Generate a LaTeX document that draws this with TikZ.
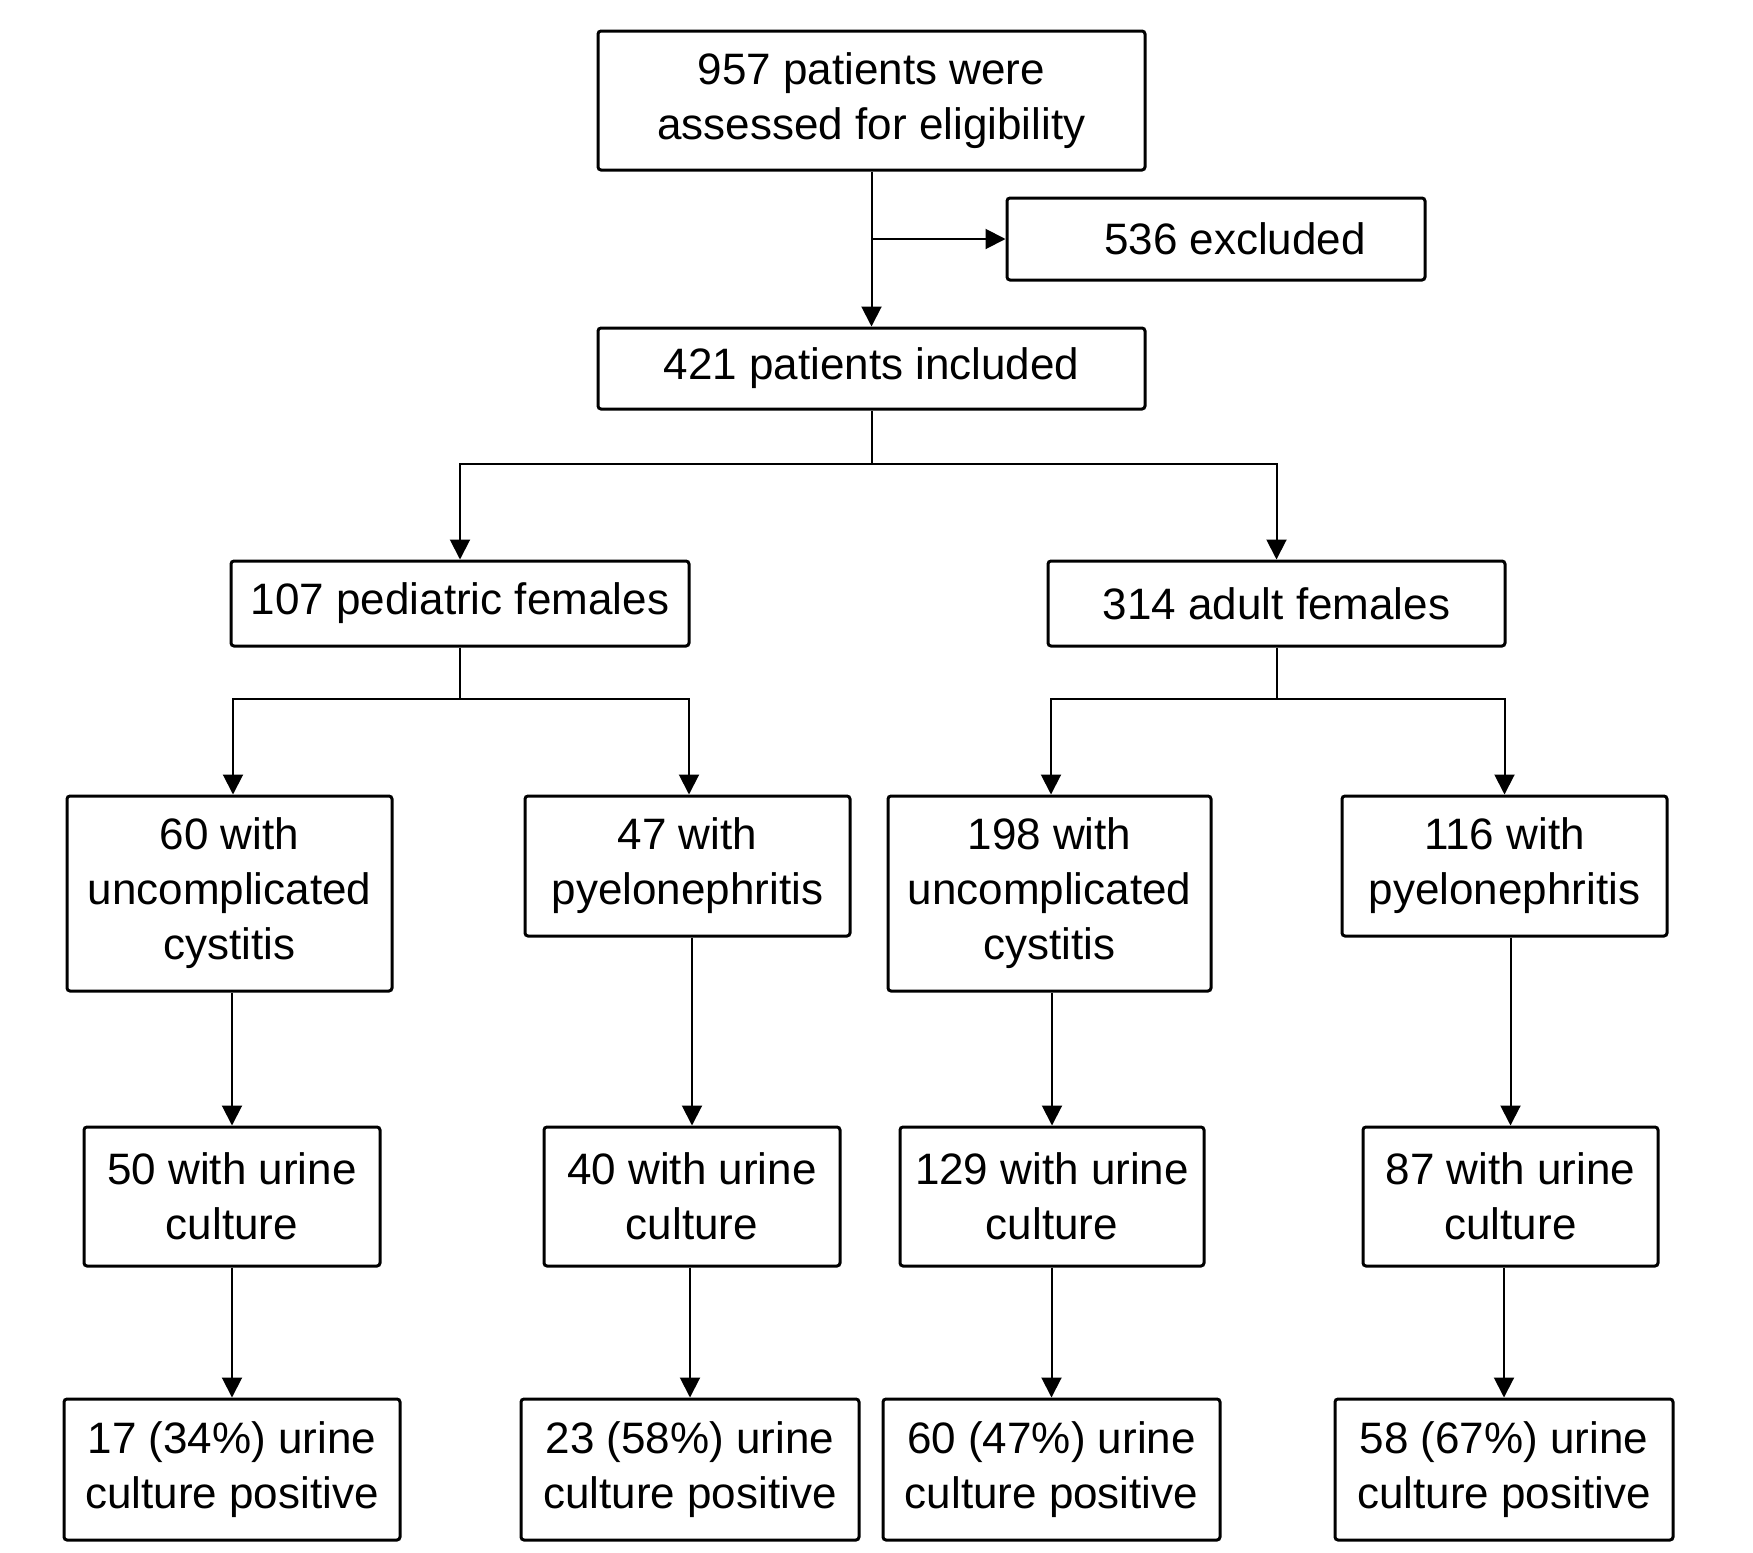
\documentclass[tikz,border=0pt]{standalone}
\usepackage{fontspec}
\setmainfont{Liberation Sans}
\usepackage{tikz}
\usetikzlibrary{arrows.meta, positioning, calc}

\begin{document}
\begin{tikzpicture}[
    x=0.5pt, y=-0.5pt,
    box/.style={rectangle, draw, line width=1.5pt, rounded corners=1.5pt, align=center, inner sep=0pt,
                font=\fontsize{22}{27.5}\selectfont},
    arrow/.style={-{Triangle[length=10pt, width=10pt]}, line width=1pt},
    link/.style={line width=1pt}
]
    \useasboundingbox (0,0) rectangle (1753,1553);

    % screening
    \node[box, minimum width=273.5pt, minimum height=69.5pt] (assess) at (871.5,100.5) {957 patients were\\assessed for eligibility};
    \node[box, minimum width=209pt, minimum height=41pt] (excl) at (1216,239) {\hspace*{19pt}536 excluded};
    \node[box, minimum width=273.5pt, minimum height=40.5pt] (incl) at (871.5,368.5) {421 patients included};

    % age groups
    \node[box, minimum width=229pt, minimum height=42.5pt] (ped) at (460,603.5) {107 pediatric females};
    \node[box, minimum width=228.5pt, minimum height=42.5pt] (adult) at (1276.5,603.5) {314 adult females};

    % diagnosis
    \node[box, minimum width=162.5pt, minimum height=97.5pt] (pedcyst) at (229.5,893.5) {60 with\\uncomplicated\\cystitis};
    \node[box, minimum width=162.5pt, minimum height=70pt] (pedpyelo) at (687.5,866) {47 with\\pyelonephritis};
    \node[box, minimum width=161.5pt, minimum height=97.5pt] (adcyst) at (1049.5,893.5) {198 with\\uncomplicated\\cystitis};
    \node[box, minimum width=162.5pt, minimum height=70pt] (adpyelo) at (1504.5,866) {116 with\\pyelonephritis};

    % urine culture
    \node[box, minimum width=148pt, minimum height=69.5pt] (pedcystuc) at (232,1196.5) {50 with urine\\culture};
    \node[box, minimum width=148pt, minimum height=69.5pt] (pedpyelouc) at (692,1196.5) {40 with urine\\culture};
    \node[box, minimum width=152pt, minimum height=69.5pt] (adcystuc) at (1052,1196.5) {129 with urine\\culture};
    \node[box, minimum width=147.5pt, minimum height=69.5pt] (adpyelouc) at (1510.5,1196.5) {87 with urine\\culture};

    % positive cultures
    \node[box, minimum width=168pt, minimum height=70.5pt] (pedcystpos) at (232,1469.5) {17 (34\%) urine\\culture positive};
    \node[box, minimum width=169pt, minimum height=70.5pt] (pedpyelopos) at (690,1469.5) {23 (58\%) urine\\culture positive};
    \node[box, minimum width=168.5pt, minimum height=70.5pt] (adcystpos) at (1051.5,1469.5) {60 (47\%) urine\\culture positive};
    \node[box, minimum width=169pt, minimum height=70.5pt] (adpyelopos) at (1504,1469.5) {58 (67\%) urine\\culture positive};

    \coordinate (split) at (871.5,464);
    \coordinate (pedsplit) at (460,699);
    \coordinate (adsplit) at (1276.5,699);

    \draw[arrow] (assess) -- (incl);
    \draw[arrow] (assess.south |- excl.west) -- (excl.west);
    \draw[link] (incl) -- (split);
    \draw[arrow] (split) -| (ped);
    \draw[arrow] (split) -| (adult);
    \draw[link] (ped) -- (pedsplit);
    \draw[arrow] (pedsplit) -| ($(pedcyst.north)+(3.5,0)$);
    \draw[arrow] (pedsplit) -| ($(pedpyelo.north)+(1.5,0)$);
    \draw[link] (adult) -- (adsplit);
    \draw[arrow] (adsplit) -| ($(adcyst.north)+(1.5,0)$);
    \draw[arrow] (adsplit) -| (adpyelo);

    \draw[arrow] (pedcyst.south -| pedcystuc) -- (pedcystuc);
    \draw[arrow] (pedpyelo.south -| pedpyelouc) -- (pedpyelouc);
    \draw[arrow] (adcyst.south -| adcystuc) -- (adcystuc);
    \draw[arrow] (adpyelo.south -| adpyelouc) -- (adpyelouc);

    \draw[arrow] (pedcystuc.south -| pedcystpos) -- (pedcystpos);
    \draw[arrow] (pedpyelouc.south -| pedpyelopos) -- (pedpyelopos);
    \draw[arrow] (adcystuc.south -| adcystpos) -- (adcystpos);
    \draw[arrow] (adpyelouc.south -| adpyelopos) -- (adpyelopos);
\end{tikzpicture}
\end{document}
